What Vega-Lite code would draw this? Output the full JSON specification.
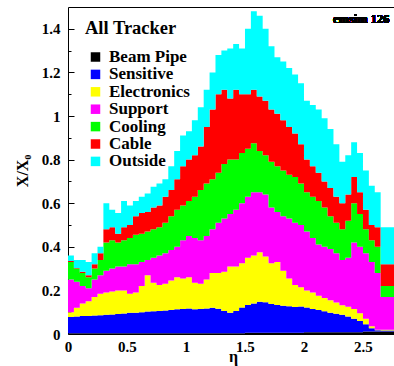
{
  "$schema": "https://vega.github.io/schema/vega-lite/v6.json",
  "width": 326,
  "height": 327,
  "autosize": {"type": "none"},
  "padding": {"left": 68, "top": 7, "right": 0, "bottom": 32},
  "background": "white",
  "config": {"view": {"stroke": null}, "font": "Liberation Serif"},
  "datasets": {
    "parts": [
      {"key": "bp", "part": "Beam Pipe", "k": 0},
      {"key": "sen", "part": "Sensitive", "k": 1},
      {"key": "ele", "part": "Electronics", "k": 2},
      {"key": "sup", "part": "Support", "k": 3},
      {"key": "coo", "part": "Cooling", "k": 4},
      {"key": "cab", "part": "Cable", "k": 5},
      {"key": "out", "part": "Outside", "k": 6}
    ]
  },
  "data": {"values": [
    {"eta": 0, "bp": 0.003, "sen": 0.075, "ele": 0.022, "sup": 0.15, "coo": 0.08, "cab": 0.005, "out": 0.025},
    {"eta": 0.05, "bp": 0.003, "sen": 0.077, "ele": 0.04, "sup": 0.12, "coo": 0.06, "cab": 0.003, "out": 0.037},
    {"eta": 0.1, "bp": 0.003, "sen": 0.079, "ele": 0.058, "sup": 0.08, "coo": 0.06, "cab": 0.005, "out": 0.055},
    {"eta": 0.15, "bp": 0.003, "sen": 0.079, "ele": 0.068, "sup": 0.06, "coo": 0.05, "cab": 0.01, "out": 0.06},
    {"eta": 0.2, "bp": 0.003, "sen": 0.082, "ele": 0.085, "sup": 0.08, "coo": 0.05, "cab": 0.02, "out": 0.05},
    {"eta": 0.25, "bp": 0.003, "sen": 0.083, "ele": 0.099, "sup": 0.085, "coo": 0.07, "cab": 0.03, "out": 0.03},
    {"eta": 0.3, "bp": 0.003, "sen": 0.085, "ele": 0.102, "sup": 0.1, "coo": 0.13, "cab": 0.06, "out": 0.12},
    {"eta": 0.35, "bp": 0.003, "sen": 0.087, "ele": 0.105, "sup": 0.105, "coo": 0.13, "cab": 0.06, "out": 0.08},
    {"eta": 0.4, "bp": 0.003, "sen": 0.089, "ele": 0.108, "sup": 0.11, "coo": 0.11, "cab": 0.04, "out": 0.095},
    {"eta": 0.45, "bp": 0.003, "sen": 0.091, "ele": 0.106, "sup": 0.11, "coo": 0.12, "cab": 0.06, "out": 0.12},
    {"eta": 0.5, "bp": 0.003, "sen": 0.094, "ele": 0.088, "sup": 0.135, "coo": 0.12, "cab": 0.06, "out": 0.09},
    {"eta": 0.55, "bp": 0.003, "sen": 0.095, "ele": 0.092, "sup": 0.13, "coo": 0.135, "cab": 0.085, "out": 0.07},
    {"eta": 0.6, "bp": 0.003, "sen": 0.097, "ele": 0.12, "sup": 0.11, "coo": 0.13, "cab": 0.095, "out": 0.075},
    {"eta": 0.65, "bp": 0.003, "sen": 0.1, "ele": 0.167, "sup": 0.07, "coo": 0.13, "cab": 0.09, "out": 0.085},
    {"eta": 0.7, "bp": 0.003, "sen": 0.101, "ele": 0.131, "sup": 0.115, "coo": 0.13, "cab": 0.1, "out": 0.095},
    {"eta": 0.75, "bp": 0.003, "sen": 0.103, "ele": 0.119, "sup": 0.135, "coo": 0.13, "cab": 0.1, "out": 0.1},
    {"eta": 0.8, "bp": 0.003, "sen": 0.105, "ele": 0.122, "sup": 0.14, "coo": 0.14, "cab": 0.12, "out": 0.08},
    {"eta": 0.85, "bp": 0.003, "sen": 0.107, "ele": 0.135, "sup": 0.14, "coo": 0.155, "cab": 0.12, "out": 0.11},
    {"eta": 0.9, "bp": 0.003, "sen": 0.11, "ele": 0.147, "sup": 0.14, "coo": 0.17, "cab": 0.14, "out": 0.13},
    {"eta": 0.95, "bp": 0.003, "sen": 0.112, "ele": 0.14, "sup": 0.175, "coo": 0.16, "cab": 0.18, "out": 0.14},
    {"eta": 1.0, "bp": 0.004, "sen": 0.113, "ele": 0.143, "sup": 0.19, "coo": 0.16, "cab": 0.19, "out": 0.13},
    {"eta": 1.05, "bp": 0.004, "sen": 0.11, "ele": 0.121, "sup": 0.205, "coo": 0.19, "cab": 0.19, "out": 0.16},
    {"eta": 1.1, "bp": 0.004, "sen": 0.111, "ele": 0.115, "sup": 0.2, "coo": 0.23, "cab": 0.2, "out": 0.18},
    {"eta": 1.15, "bp": 0.004, "sen": 0.113, "ele": 0.133, "sup": 0.2, "coo": 0.24, "cab": 0.26, "out": 0.17},
    {"eta": 1.2, "bp": 0.004, "sen": 0.116, "ele": 0.16, "sup": 0.2, "coo": 0.23, "cab": 0.32, "out": 0.17},
    {"eta": 1.25, "bp": 0.004, "sen": 0.112, "ele": 0.164, "sup": 0.23, "coo": 0.23, "cab": 0.36, "out": 0.18},
    {"eta": 1.3, "bp": 0.004, "sen": 0.102, "ele": 0.179, "sup": 0.245, "coo": 0.25, "cab": 0.34, "out": 0.18},
    {"eta": 1.35, "bp": 0.004, "sen": 0.093, "ele": 0.213, "sup": 0.24, "coo": 0.25, "cab": 0.28, "out": 0.23},
    {"eta": 1.4, "bp": 0.004, "sen": 0.101, "ele": 0.205, "sup": 0.26, "coo": 0.23, "cab": 0.32, "out": 0.21},
    {"eta": 1.45, "bp": 0.004, "sen": 0.118, "ele": 0.203, "sup": 0.275, "coo": 0.23, "cab": 0.27, "out": 0.21},
    {"eta": 1.5, "bp": 0.006, "sen": 0.127, "ele": 0.217, "sup": 0.28, "coo": 0.22, "cab": 0.25, "out": 0.3},
    {"eta": 1.55, "bp": 0.006, "sen": 0.134, "ele": 0.22, "sup": 0.29, "coo": 0.225, "cab": 0.245, "out": 0.36},
    {"eta": 1.6, "bp": 0.006, "sen": 0.142, "ele": 0.227, "sup": 0.275, "coo": 0.19, "cab": 0.25, "out": 0.37},
    {"eta": 1.65, "bp": 0.006, "sen": 0.14, "ele": 0.209, "sup": 0.285, "coo": 0.18, "cab": 0.25, "out": 0.33},
    {"eta": 1.7, "bp": 0.006, "sen": 0.132, "ele": 0.187, "sup": 0.255, "coo": 0.21, "cab": 0.24, "out": 0.29},
    {"eta": 1.75, "bp": 0.006, "sen": 0.127, "ele": 0.197, "sup": 0.23, "coo": 0.21, "cab": 0.24, "out": 0.26},
    {"eta": 1.8, "bp": 0.006, "sen": 0.124, "ele": 0.16, "sup": 0.25, "coo": 0.21, "cab": 0.23, "out": 0.27},
    {"eta": 1.85, "bp": 0.006, "sen": 0.121, "ele": 0.128, "sup": 0.275, "coo": 0.2, "cab": 0.22, "out": 0.27},
    {"eta": 1.9, "bp": 0.006, "sen": 0.118, "ele": 0.101, "sup": 0.285, "coo": 0.21, "cab": 0.2, "out": 0.27},
    {"eta": 1.95, "bp": 0.006, "sen": 0.12, "ele": 0.089, "sup": 0.285, "coo": 0.19, "cab": 0.18, "out": 0.28},
    {"eta": 2.0, "bp": 0.008, "sen": 0.114, "ele": 0.078, "sup": 0.27, "coo": 0.18, "cab": 0.15, "out": 0.27},
    {"eta": 2.05, "bp": 0.008, "sen": 0.107, "ele": 0.075, "sup": 0.25, "coo": 0.19, "cab": 0.14, "out": 0.28},
    {"eta": 2.1, "bp": 0.008, "sen": 0.102, "ele": 0.065, "sup": 0.235, "coo": 0.2, "cab": 0.13, "out": 0.29},
    {"eta": 2.15, "bp": 0.008, "sen": 0.096, "ele": 0.061, "sup": 0.235, "coo": 0.18, "cab": 0.12, "out": 0.29},
    {"eta": 2.2, "bp": 0.008, "sen": 0.09, "ele": 0.057, "sup": 0.235, "coo": 0.15, "cab": 0.13, "out": 0.27},
    {"eta": 2.25, "bp": 0.008, "sen": 0.085, "ele": 0.052, "sup": 0.225, "coo": 0.14, "cab": 0.12, "out": 0.24},
    {"eta": 2.3, "bp": 0.008, "sen": 0.08, "ele": 0.044, "sup": 0.208, "coo": 0.14, "cab": 0.12, "out": 0.19},
    {"eta": 2.35, "bp": 0.008, "sen": 0.072, "ele": 0.045, "sup": 0.225, "coo": 0.17, "cab": 0.12, "out": 0.18},
    {"eta": 2.4, "bp": 0.008, "sen": 0.062, "ele": 0.045, "sup": 0.305, "coo": 0.18, "cab": 0.12, "out": 0.16},
    {"eta": 2.45, "bp": 0.008, "sen": 0.052, "ele": 0.035, "sup": 0.305, "coo": 0.15, "cab": 0.1, "out": 0.18},
    {"eta": 2.5, "bp": 0.011, "sen": 0.034, "ele": 0.025, "sup": 0.3, "coo": 0.11, "cab": 0.09, "out": 0.18},
    {"eta": 2.55, "bp": 0.011, "sen": 0.015, "ele": 0.009, "sup": 0.295, "coo": 0.1, "cab": 0.07, "out": 0.18},
    {"eta": 2.6, "bp": 0.011, "sen": 0.006, "ele": 0.003, "sup": 0.26, "coo": 0.12, "cab": 0.09, "out": 0.16},
    {"eta": 2.65, "bp": 0.011, "sen": 0.005, "ele": 0.003, "sup": 0.151, "coo": 0.05, "cab": 0.1, "out": 0.17},
    {"eta": 2.7, "bp": 0.011, "sen": 0.005, "ele": 0.003, "sup": 0.151, "coo": 0.05, "cab": 0.1, "out": 0.17},
    {"eta": 2.75, "bp": 0.011, "sen": 0.005, "ele": 0.003, "sup": 0.151, "coo": 0.05, "cab": 0.1, "out": 0.17},
    {"eta": 2.8, "bp": 0.011, "sen": 0.005, "ele": 0.003, "sup": 0.151, "coo": 0.05, "cab": 0.1, "out": 0.17}
  ]},
  "layer": [
    {
      "transform": [
        {"fold": ["bp", "sen", "ele", "sup", "coo", "cab", "out"], "as": ["key", "value"]},
        {"lookup": "key", "from": {"data": {"name": "parts"}, "key": "key", "fields": ["part", "k"]}}
      ],
      "mark": {"type": "area", "interpolate": "step-after", "clip": true},
      "encoding": {
        "x": {"field": "eta", "type": "quantitative",
          "scale": {"domain": [0, 2.763], "nice": false, "zero": false},
          "axis": {"values": [0, 0.5, 1, 1.5, 2, 2.5], "format": "~g", "grid": false, "ticks": false,
            "labelFont": "Liberation Serif", "labelFontWeight": "bold", "labelFontSize": 15, "labelColor": "black",
            "labelPadding": 5, "labelFlush": false, "labelOverlap": false, "domainColor": "black", "domainWidth": 1,
            "title": "η", "titleFont": "Liberation Serif", "titleFontWeight": "bold", "titleFontSize": 16, "titleColor": "black",
            "titleX": 165, "titleY": 14, "titleBaseline": "top", "titleAnchor": null}},
        "y": {"field": "value", "type": "quantitative", "stack": "zero",
          "scale": {"domain": [0, 1.5], "nice": false},
          "axis": {"values": [0, 0.2, 0.4, 0.6, 0.8, 1, 1.2, 1.4], "format": "~g", "grid": false,
            "tickSize": -6, "tickColor": "black", "labelPadding": 14,
            "labelFont": "Liberation Serif", "labelFontWeight": "bold", "labelFontSize": 15, "labelColor": "black",
            "labelFlush": false, "labelOverlap": false, "domainColor": "black", "domainWidth": 1,
            "title": "X/X₀", "titleFont": "Liberation Serif", "titleFontWeight": "bold", "titleFontSize": 16, "titleColor": "black",
            "titleX": -46, "titleY": 163.5, "titleAngle": 270, "titleAlign": "center", "titleBaseline": "middle"}},
        "color": {"field": "part", "type": "nominal",
          "scale": {"domain": ["Beam Pipe", "Sensitive", "Electronics", "Support", "Cooling", "Cable", "Outside"],
                    "range": ["#000000", "#0000ff", "#ffff00", "#ff00ff", "#00ff00", "#ff0000", "#00ffff"]},
          "legend": {"orient": "none", "legendX": 17, "legendY": 12, "title": "All Tracker", "padding": 0,
            "titleFont": "Liberation Serif", "titleFontWeight": "bold", "titleFontSize": 18.5, "titleColor": "black", "titlePadding": 11,
            "labelFont": "Liberation Serif", "labelFontWeight": "bold", "labelFontSize": 17, "labelColor": "black", "labelOffset": 5,
            "symbolType": "square", "symbolSize": 90, "symbolStrokeWidth": 0, "symbolOpacity": 1, "symbolOffset": 2,
            "rowPadding": -0.6, "labelLimit": 0, "titleLimit": 0}},
        "order": {"field": "k", "type": "quantitative"}
      }
    },
    {
      "mark": {"type": "point", "opacity": 0},
      "encoding": {
        "x": {"field": "eta", "type": "quantitative",
          "scale": {"domain": [0, 2.763], "nice": false, "zero": false},
          "axis": {"orient": "top", "labels": false, "ticks": false, "grid": false, "title": null, "domainColor": "black", "domainWidth": 1}},
        "y": {"field": "out", "type": "quantitative",
          "scale": {"domain": [0, 1.5], "nice": false},
          "axis": {"orient": "left", "values": [0.1, 0.3, 0.5, 0.7, 0.9, 1.1, 1.3], "labels": false, "domain": false, "grid": false,
            "tickSize": -3, "tickColor": "black", "title": null}}
      }
    },
    {
      "mark": {"type": "text", "text": "emsim 126", "align": "left", "baseline": "alphabetic", "font": "Liberation Serif", "fontWeight": "bold", "fontSize": 12.5, "fill": "black", "strokeWidth": 0},
      "encoding": {
        "x": {"datum": 2.246, "type": "quantitative", "axis": null},
        "y": {"datum": 1.427, "type": "quantitative", "axis": null}
      }
    }
  ],
  "resolve": {"axis": {"x": "independent", "y": "independent"}}
}
